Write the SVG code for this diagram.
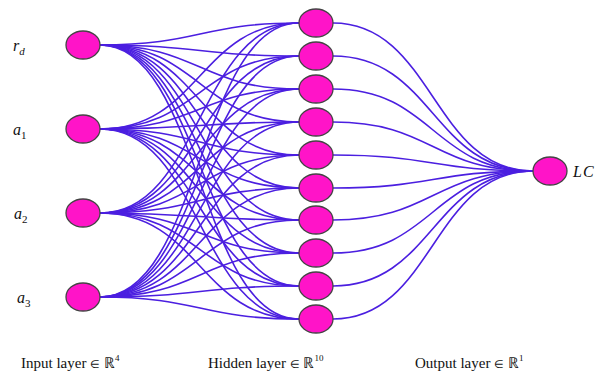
<svg xmlns="http://www.w3.org/2000/svg" width="607" height="378" viewBox="0 0 607 378">
<style>
.e{fill:none;stroke:#4b1fe0;stroke-width:1.6}
.n{fill:#ff14c8;stroke:#444;stroke-width:1.3}
.t{font-family:"Liberation Serif","Times New Roman",serif;fill:#111}
.i{font-style:italic;font-size:16px}
.b{font-size:15px}
.s{font-size:11px;font-style:normal}
.el{font-size:11px}
</style>
<rect width="607" height="378" fill="#fff"/>
<g id="connectors">
<path class="e" d="M100,45 C200,45 200,23 299,23"/>
<path class="e" d="M100,45 C200,45 200,56 299,56"/>
<path class="e" d="M100,45 C200,45 200,89 299,89"/>
<path class="e" d="M100,45 C200,45 200,122 299,122"/>
<path class="e" d="M100,45 C200,45 200,155 299,155"/>
<path class="e" d="M100,45 C200,45 200,188 299,188"/>
<path class="e" d="M100,45 C200,45 200,220 299,220"/>
<path class="e" d="M100,45 C200,45 200,253 299,253"/>
<path class="e" d="M100,45 C200,45 200,286 299,286"/>
<path class="e" d="M100,45 C200,45 200,319 299,319"/>
<path class="e" d="M100,129 C200,129 200,23 299,23"/>
<path class="e" d="M100,129 C200,129 200,56 299,56"/>
<path class="e" d="M100,129 C200,129 200,89 299,89"/>
<path class="e" d="M100,129 C200,129 200,122 299,122"/>
<path class="e" d="M100,129 C200,129 200,155 299,155"/>
<path class="e" d="M100,129 C200,129 200,188 299,188"/>
<path class="e" d="M100,129 C200,129 200,220 299,220"/>
<path class="e" d="M100,129 C200,129 200,253 299,253"/>
<path class="e" d="M100,129 C200,129 200,286 299,286"/>
<path class="e" d="M100,129 C200,129 200,319 299,319"/>
<path class="e" d="M100,213 C200,213 200,23 299,23"/>
<path class="e" d="M100,213 C200,213 200,56 299,56"/>
<path class="e" d="M100,213 C200,213 200,89 299,89"/>
<path class="e" d="M100,213 C200,213 200,122 299,122"/>
<path class="e" d="M100,213 C200,213 200,155 299,155"/>
<path class="e" d="M100,213 C200,213 200,188 299,188"/>
<path class="e" d="M100,213 C200,213 200,220 299,220"/>
<path class="e" d="M100,213 C200,213 200,253 299,253"/>
<path class="e" d="M100,213 C200,213 200,286 299,286"/>
<path class="e" d="M100,213 C200,213 200,319 299,319"/>
<path class="e" d="M100,297 C200,297 200,23 299,23"/>
<path class="e" d="M100,297 C200,297 200,56 299,56"/>
<path class="e" d="M100,297 C200,297 200,89 299,89"/>
<path class="e" d="M100,297 C200,297 200,122 299,122"/>
<path class="e" d="M100,297 C200,297 200,155 299,155"/>
<path class="e" d="M100,297 C200,297 200,188 299,188"/>
<path class="e" d="M100,297 C200,297 200,220 299,220"/>
<path class="e" d="M100,297 C200,297 200,253 299,253"/>
<path class="e" d="M100,297 C200,297 200,286 299,286"/>
<path class="e" d="M100,297 C200,297 200,319 299,319"/>
<path class="e" d="M333,23 C433,23 433,171 533,171"/>
<path class="e" d="M333,56 C433,56 433,171 533,171"/>
<path class="e" d="M333,89 C433,89 433,171 533,171"/>
<path class="e" d="M333,122 C433,122 433,171 533,171"/>
<path class="e" d="M333,155 C433,155 433,171 533,171"/>
<path class="e" d="M333,188 C433,188 433,171 533,171"/>
<path class="e" d="M333,220 C433,220 433,171 533,171"/>
<path class="e" d="M333,253 C433,253 433,171 533,171"/>
<path class="e" d="M333,286 C433,286 433,171 533,171"/>
<path class="e" d="M333,319 C433,319 433,171 533,171"/>
</g>
<g id="in-rd"><ellipse class="n" cx="83" cy="45" rx="17" ry="14"/><text class="t i" x="13" y="51">r<tspan font-size="11" dy="4">d</tspan></text></g>
<g id="in-a1"><ellipse class="n" cx="83" cy="129" rx="17" ry="14"/><text class="t i" x="13" y="135">a<tspan class="s" dy="4">1</tspan></text></g>
<g id="in-a2"><ellipse class="n" cx="83" cy="213" rx="17" ry="14"/><text class="t i" x="14" y="219">a<tspan class="s" dy="4">2</tspan></text></g>
<g id="in-a3"><ellipse class="n" cx="83" cy="297" rx="17" ry="14"/><text class="t i" x="17" y="303">a<tspan class="s" dy="4">3</tspan></text></g>
<g id="h1"><ellipse class="n" cx="316" cy="23" rx="17" ry="14"/></g>
<g id="h2"><ellipse class="n" cx="316" cy="56" rx="17" ry="14"/></g>
<g id="h3"><ellipse class="n" cx="316" cy="89" rx="17" ry="14"/></g>
<g id="h4"><ellipse class="n" cx="316" cy="122" rx="17" ry="14"/></g>
<g id="h5"><ellipse class="n" cx="316" cy="155" rx="17" ry="14"/></g>
<g id="h6"><ellipse class="n" cx="316" cy="188" rx="17" ry="14"/></g>
<g id="h7"><ellipse class="n" cx="316" cy="220" rx="17" ry="14"/></g>
<g id="h8"><ellipse class="n" cx="316" cy="253" rx="17" ry="14"/></g>
<g id="h9"><ellipse class="n" cx="316" cy="286" rx="17" ry="14"/></g>
<g id="h10"><ellipse class="n" cx="316" cy="319" rx="17" ry="14"/></g>
<g id="out-lc"><ellipse class="n" cx="550" cy="171" rx="17" ry="14"/><text class="t i" x="573" y="177" letter-spacing="1">LC</text></g>
<g id="labels">
<text class="t b" x="21" y="368">Input layer <tspan class="el">∈</tspan> ℝ<tspan font-size="9" dy="-7">4</tspan></text>
<text class="t b" x="208" y="368">Hidden layer <tspan class="el">∈</tspan> ℝ<tspan font-size="9" dy="-7">10</tspan></text>
<text class="t b" x="415" y="368">Output layer <tspan class="el">∈</tspan> ℝ<tspan font-size="9" dy="-7">1</tspan></text>
</g>
</svg>
